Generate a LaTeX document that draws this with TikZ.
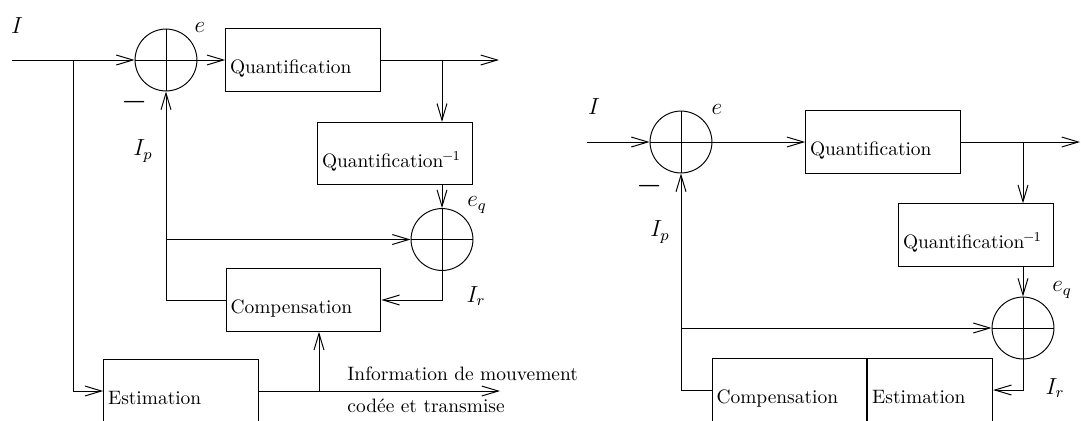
\documentclass[tikz,border=0pt]{standalone}
\usetikzlibrary{arrows.meta}
\begin{document}
\begin{tikzpicture}[x=0.181mm, y=-0.181mm, line width=0.5pt, every node/.style={font=\normalsize}]
  \tikzstyle{bloc}=[draw,align=left,text width=2.64cm,inner xsep=0.08cm,inner ysep=0pt,minimum height=1.13cm,text height=0.55cm,text depth=0.05cm]
  \tikzstyle{somme}=[draw,circle,minimum size=1.12cm,inner sep=0pt]
  \tikzstyle{lab}=[inner sep=0pt,font=\large]
  \tikzstyle{fl}=[-{Straight Barb[length=3mm,width=1.8mm]}]
  \useasboundingbox (0,0) rectangle (1081,420);
  \clip (0,0) rectangle (1081,420);
  % schema de gauche
  \node[somme] (s1) at (166,60) {};
  \node[bloc] (q1) at (303,60) {Quantification};
  \node[bloc] (qi1) at (395,153.5) {Quantification\textsuperscript{\textbf{--}1}};
  \node[somme] (s2) at (442,239.5) {};
  \node[bloc] (comp1) at (303.5,300) {Compensation};
  \node[bloc] (est1) at (181,391) {Estimation};
  \coordinate (in1) at (12,60);
  \coordinate (b1) at (73,60);
  \coordinate (out1) at (499,60);
  \coordinate (b2) at (319,391);
  \coordinate (info) at (500,391);
  \draw (s1.north) -- (s1.south) (s1.west) -- (s1.east);
  \draw (s2.north) -- (s2.south) (s2.west) -- (s2.east);
  \draw[fl] (in1) -- (s1.west);
  \draw[fl] (s1.east) -- (q1.west);
  \draw[fl] (q1.east) -- (out1);
  \draw[fl] (q1.east -| s2) -- (qi1.north -| s2);
  \draw[fl] (qi1.south -| s2) -- (s2.north);
  \draw[fl] (s1.south |- s2) -- (s2.west);
  \draw[fl] (s2.south) |- (comp1.east);
  \draw[fl] (comp1.west) -| (s1.south);
  \draw[fl] (b1) |- (est1.west);
  \draw[fl] (est1.east) -- (info);
  \draw[fl] (b2) -- (b2 |- comp1.south);
  \node[lab] (I1) at (17,26) {$I$};
  \node[lab] (e1) at (200,27) {$e$};
  \node[lab,font=\LARGE] (m1) at (135,102) {$-$};
  \node[lab] (Ip1) at (143,151) {$I_p$};
  \node[lab] (eq1) at (477,205) {$e_q$};
  \node[lab] (Ir1) at (476,296) {$I_r$};
  \node[anchor=base west,inner sep=0pt] (inf1) at (347,380) {Information de mouvement};
  \node[anchor=base west,inner sep=0pt] (inf2) at (347,412.5) {cod\'ee et transmise};
  % schema de droite
  \node[somme] (s3) at (681,142) {};
  \node[bloc] (q2) at (883,142) {Quantification};
  \node[bloc] (qi2) at (976,235) {Quantification\textsuperscript{\textbf{--}1}};
  \node[somme] (s4) at (1023,328) {};
  \node[bloc] (comp2) at (789.5,390) {Compensation};
  \node[bloc,text width=2.10cm,anchor=west] (est2) at (comp2.east) {Estimation};
  \coordinate (in2) at (587,142);
  \coordinate (out2) at (1080,142);
  \draw (s3.north) -- (s3.south) (s3.west) -- (s3.east);
  \draw (s4.north) -- (s4.south) (s4.west) -- (s4.east);
  \draw[fl] (in2) -- (s3.west);
  \draw[fl] (s3.east) -- (q2.west);
  \draw[fl] (q2.east) -- (out2);
  \draw[fl] (q2.east -| s4) -- (qi2.north -| s4);
  \draw[fl] (qi2.south -| s4) -- (s4.north);
  \draw[fl] (s3.south |- s4) -- (s4.west);
  \draw[fl] (s4.south) |- (est2.east);
  \draw[fl] (comp2.west) -| (s3.south);
  \node[lab] (I2) at (594,107) {$I$};
  \node[lab] (e2) at (717,109) {$e$};
  \node[lab,font=\LARGE] (m2) at (650,186) {$-$};
  \node[lab] (Ip2) at (660,232) {$I_p$};
  \node[lab] (eq2) at (1062,290) {$e_q$};
  \node[lab] (Ir2) at (1055,388) {$I_r$};
\end{tikzpicture}
\end{document}
